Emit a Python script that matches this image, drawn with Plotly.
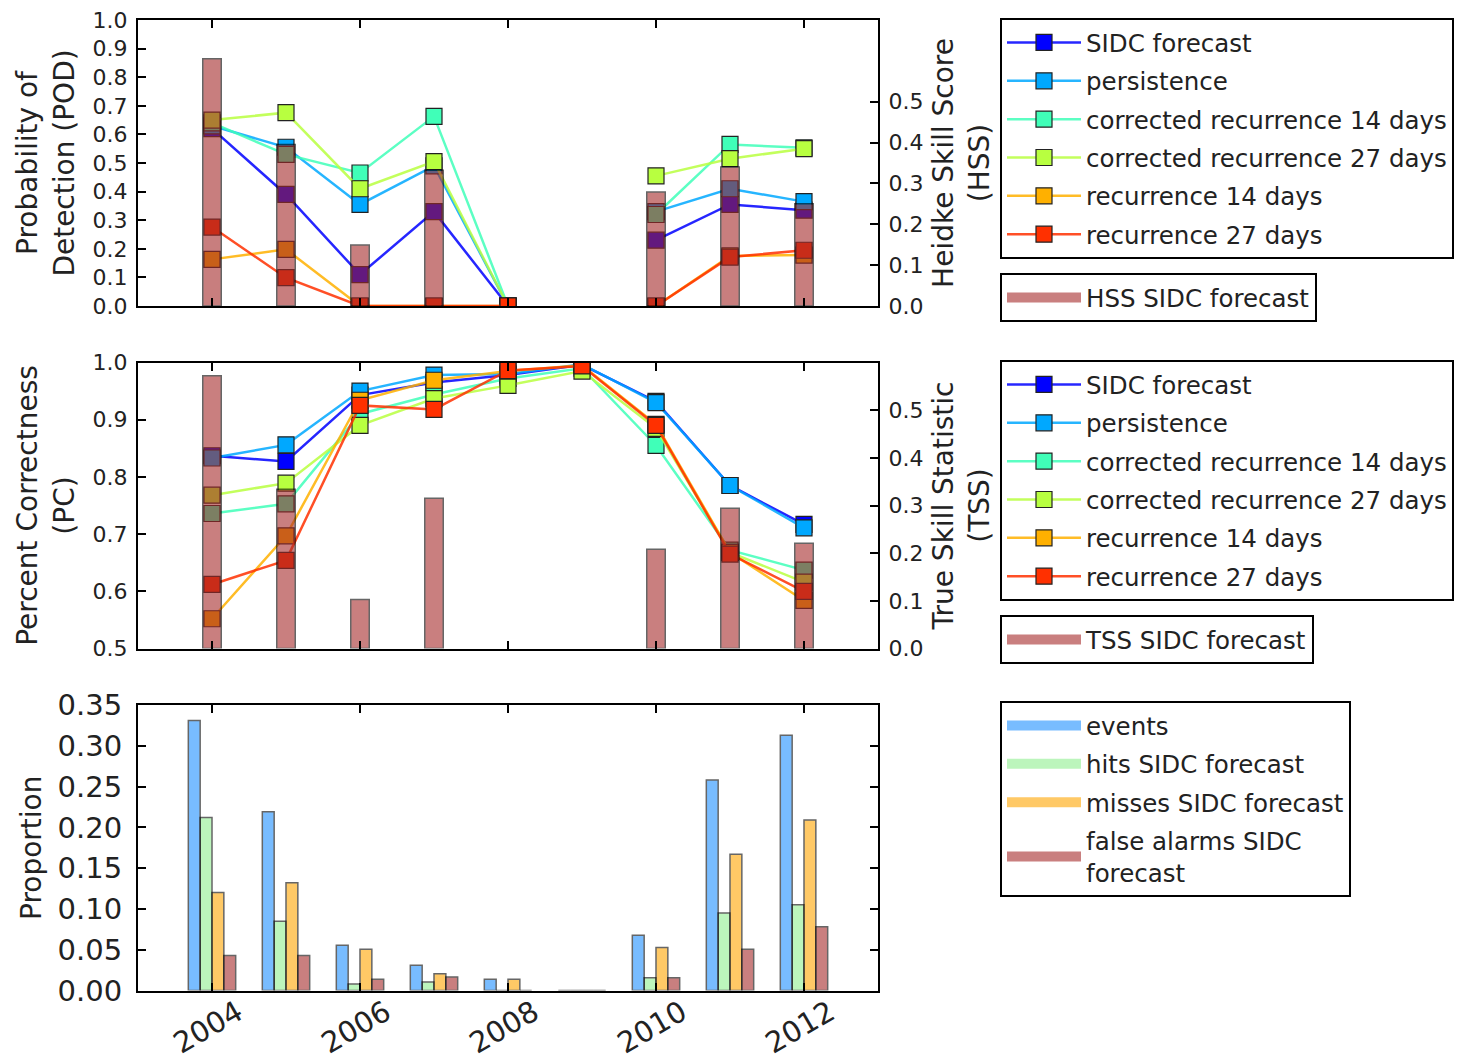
import plotly.graph_objects as go

# ---------------- data ----------------
years = [2004, 2005, 2006, 2007, 2008, 2009, 2010, 2011, 2012]
series_names = ["SIDC forecast", "persistence", "corrected recurrence 14 days",
                "corrected recurrence 27 days", "recurrence 14 days", "recurrence 27 days"]

# Probability of detection (POD); 2009 has no events
pod_sidc = [0.62, 0.39, 0.11, 0.33, 0.0, None, 0.23, 0.355, 0.335]
pod_pers = [0.63, 0.555, 0.355, 0.49, 0.0, None, 0.33, 0.41, 0.365]
pod_cr14 = [0.64, 0.53, 0.465, 0.663, 0.0, None, 0.32, 0.565, 0.553]
pod_cr27 = [0.65, 0.676, 0.41, 0.505, 0.0, None, 0.455, 0.515, 0.55]
pod_r14 = [0.163, 0.198, 0.0, 0.0, 0.0, None, 0.0, 0.175, 0.178]
pod_r27 = [0.276, 0.099, 0.0, 0.0, 0.0, None, 0.0, 0.171, 0.195]
hss_sidc = [0.605, 0.395, 0.149, 0.332, None, None, 0.279, 0.340, 0.25]

# Percent correctness (PC)
pc_sidc = [0.837, 0.827, 0.943, 0.965, 0.978, 0.996, 0.932, 0.785, 0.717]
pc_pers = [0.833, 0.856, 0.950, 0.978, 0.980, 0.997, 0.930, 0.785, 0.711]
pc_cr14 = [0.736, 0.753, 0.910, 0.944, 0.972, 0.990, 0.855, 0.672, 0.637]
pc_cr27 = [0.768, 0.789, 0.890, 0.937, 0.960, 0.985, 0.885, 0.668, 0.616]
pc_r14 = [0.552, 0.697, 0.934, 0.969, 0.985, 0.995, 0.892, 0.668, 0.584]
pc_r27 = [0.612, 0.654, 0.925, 0.918, 0.986, 0.994, 0.890, 0.665, 0.600]
tss_sidc = [0.572, 0.334, 0.103, 0.315, None, None, 0.208, 0.294, 0.221]

# Proportions
events = [0.331, 0.219, 0.0555, 0.031, 0.0137, 0.0, 0.0678, 0.258, 0.313]
hits = [0.212, 0.085, 0.008, 0.0104, 0.0, 0.0, 0.0157, 0.095, 0.105]
misses = [0.120, 0.132, 0.0506, 0.0206, 0.0137, 0.0, 0.0526, 0.167, 0.209]
false_alarms = [0.043, 0.043, 0.0137, 0.0166, 0.0, 0.0, 0.0157, 0.0506, 0.078]
prop_names = ["events", "hits SIDC forecast", "misses SIDC forecast",
              "false alarms SIDC<br>forecast"]

tick_years = [2004, 2006, 2008, 2010, 2012]
tick_labels = ["2004", "2006", "2008", "2010", "2012"]

# ---------------- style ----------------
line_colors = ["#0000ff", "#00a8ff", "#40ffb8", "#b8ff40", "#ffb000", "#ff3000"]
line_rgba = ["rgba(0,0,255,0.85)", "rgba(0,168,255,0.85)", "rgba(64,255,184,0.85)",
             "rgba(184,255,64,0.85)", "rgba(255,176,0,0.85)", "rgba(255,48,0,0.85)"]
prop_colors = ["#1e90ff", "#90ee90", "#ffa500", "#a52a2a"]
prop_legend_colors = ["#78bcff", "#bcf5bc", "#ffc966", "#c97f7f"]
FONT = "DejaVu Sans"
W, H = 1468, 1060
OFFX, OFFY = 8, 6  # page body margin


def px(x):
    return (x - OFFX) / W


def py(y):
    return 1 - (y - OFFY) / H


fig = go.Figure()

pod_all = [pod_sidc, pod_pers, pod_cr14, pod_cr27, pod_r14, pod_r27]
pc_all = [pc_sidc, pc_pers, pc_cr14, pc_cr27, pc_r14, pc_r27]

for i, (name, vals) in enumerate(zip(series_names, pod_all)):
    fig.add_trace(go.Scatter(
        x=years, y=vals, name=name, mode="lines+markers", xaxis="x", yaxis="y",
        line=dict(color=line_rgba[i], width=2.5),
        marker=dict(symbol="square", size=16, color=line_colors[i],
                    line=dict(color="#222", width=1.2)),
        legend="legend", legendgroup="top%d" % i, connectgaps=False))

fig.add_trace(go.Bar(
    x=years, y=hss_sidc, name="HSS SIDC forecast", xaxis="x", yaxis="y2", width=0.25,
    marker=dict(color="#a52a2a", opacity=0.6, line=dict(color="#000", width=1.5)),
    showlegend=False))
fig.add_trace(go.Scatter(
    x=[None], y=[None], name="HSS SIDC forecast", mode="lines", xaxis="x", yaxis="y2",
    line=dict(color="#c97f7f", width=14), legend="legend2"))

for i, (name, vals) in enumerate(zip(series_names, pc_all)):
    fig.add_trace(go.Scatter(
        x=years, y=vals, name=name, mode="lines+markers", xaxis="x2", yaxis="y3",
        line=dict(color=line_rgba[i], width=2.5),
        marker=dict(symbol="square", size=16, color=line_colors[i],
                    line=dict(color="#222", width=1.2)),
        legend="legend3", legendgroup="mid%d" % i))

fig.add_trace(go.Bar(
    x=years, y=tss_sidc, name="TSS SIDC forecast", xaxis="x2", yaxis="y4", width=0.25,
    marker=dict(color="#a52a2a", opacity=0.6, line=dict(color="#000", width=1.5)),
    showlegend=False))
fig.add_trace(go.Scatter(
    x=[None], y=[None], name="TSS SIDC forecast", mode="lines", xaxis="x2", yaxis="y4",
    line=dict(color="#c97f7f", width=14), legend="legend4"))

offsets = [-0.32, -0.16, 0.0, 0.16]
for i, (name, vals) in enumerate(zip(prop_names, [events, hits, misses, false_alarms])):
    fig.add_trace(go.Bar(
        x=years, y=vals, name=name, xaxis="x3", yaxis="y5", width=0.16, offset=offsets[i],
        marker=dict(color=prop_colors[i], opacity=0.6, line=dict(color="#000", width=1.5)),
        showlegend=False))
    fig.add_trace(go.Scatter(
        x=[None], y=[None], name=name, mode="lines", xaxis="x3", yaxis="y5",
        line=dict(color=prop_legend_colors[i], width=14),
        legend="legend5", legendgroup="bot%d" % i))

xdom = [px(138), px(878)]
ydom_top = [py(304), py(18)]
ydom_mid = [py(646.5), py(360.5)]
ydom_bot = [py(988.5), py(703)]

axis_common = dict(showline=True, linewidth=2, linecolor="#000", ticks="inside",
                   ticklen=8, tickwidth=1.5, tickcolor="#000", showgrid=False,
                   zeroline=False, automargin=False, ticklabeloverflow="allow")
xcommon = dict(axis_common, range=[2003, 2013], tickvals=tick_years, mirror="ticks",
               showticklabels=False, domain=xdom)
tickfont = dict(family=FONT, size=22, color="#222")
titlefont = dict(family=FONT, size=28, color="#222")

fig.update_layout(
    width=W, height=H, margin=dict(l=0, r=0, t=0, b=0, autoexpand=False),
    paper_bgcolor="white", plot_bgcolor="white", barmode="overlay",
    font=dict(family=FONT, color="#222"),
    xaxis=dict(xcommon, anchor="y"),
    xaxis2=dict(xcommon, anchor="y3"),
    xaxis3=dict(xcommon, anchor="y5"),
    yaxis=dict(axis_common, domain=ydom_top, range=[0, 1.0], dtick=0.1, tickformat=".1f",
               mirror=True, tickfont=tickfont, anchor="x", ticklabelstandoff=4,
               title=dict(text="Probability of<br>Detection (POD)", font=titlefont, standoff=10)),
    yaxis2=dict(axis_common, domain=ydom_top, range=[0, 0.7],
                tickvals=[0, 0.1, 0.2, 0.3, 0.4, 0.5], tickformat=".1f", overlaying="y",
                side="right", anchor="x", tickfont=tickfont, ticklabelstandoff=4,
                title=dict(text="Heidke Skill Score<br>(HSS)", font=titlefont, standoff=11)),
    yaxis3=dict(axis_common, domain=ydom_mid, range=[0.5, 1.0], dtick=0.1, tickformat=".1f",
                mirror=True, tickfont=tickfont, anchor="x2", ticklabelstandoff=4,
                title=dict(text="Percent Correctness<br>(PC)", font=titlefont, standoff=10)),
    yaxis4=dict(axis_common, domain=ydom_mid, range=[0, 0.6],
                tickvals=[0, 0.1, 0.2, 0.3, 0.4, 0.5], tickformat=".1f", overlaying="y3",
                side="right", anchor="x2", tickfont=tickfont, ticklabelstandoff=4,
                title=dict(text="True Skill Statistic<br>(TSS)", font=titlefont, standoff=11)),
    yaxis5=dict(axis_common, domain=ydom_bot, range=[0, 0.35], dtick=0.05, tickformat=".2f",
                mirror="ticks", anchor="x3", ticklabelstandoff=8,
                tickfont=dict(family=FONT, size=29, color="#222"),
                title=dict(text="Proportion", font=titlefont, standoff=8)),
)

leg_common = dict(bgcolor="white", bordercolor="#000", borderwidth=2,
                  font=dict(family=FONT, size=24.5, color="#222"),
                  xanchor="left", yanchor="top", itemwidth=74, tracegroupgap=3.5,
                  itemclick=False, itemdoubleclick=False)
fig.update_layout(
    legend=dict(leg_common, x=px(1000), y=py(16)),
    legend2=dict(leg_common, x=px(1000), y=py(271)),
    legend3=dict(leg_common, x=px(1000), y=py(358)),
    legend4=dict(leg_common, x=px(1000), y=py(613)),
    legend5=dict(leg_common, x=px(1000), y=py(699)),
)

for yr, lab in zip(tick_years, tick_labels):
    fig.add_annotation(x=yr, y=py(1025), xref="x3", yref="paper", text=lab,
                       showarrow=False, textangle=-30, xshift=-4,
                       font=dict(family=FONT, size=29, color="#222"),
                       xanchor="center", yanchor="middle")

fig.write_html("out.html")
